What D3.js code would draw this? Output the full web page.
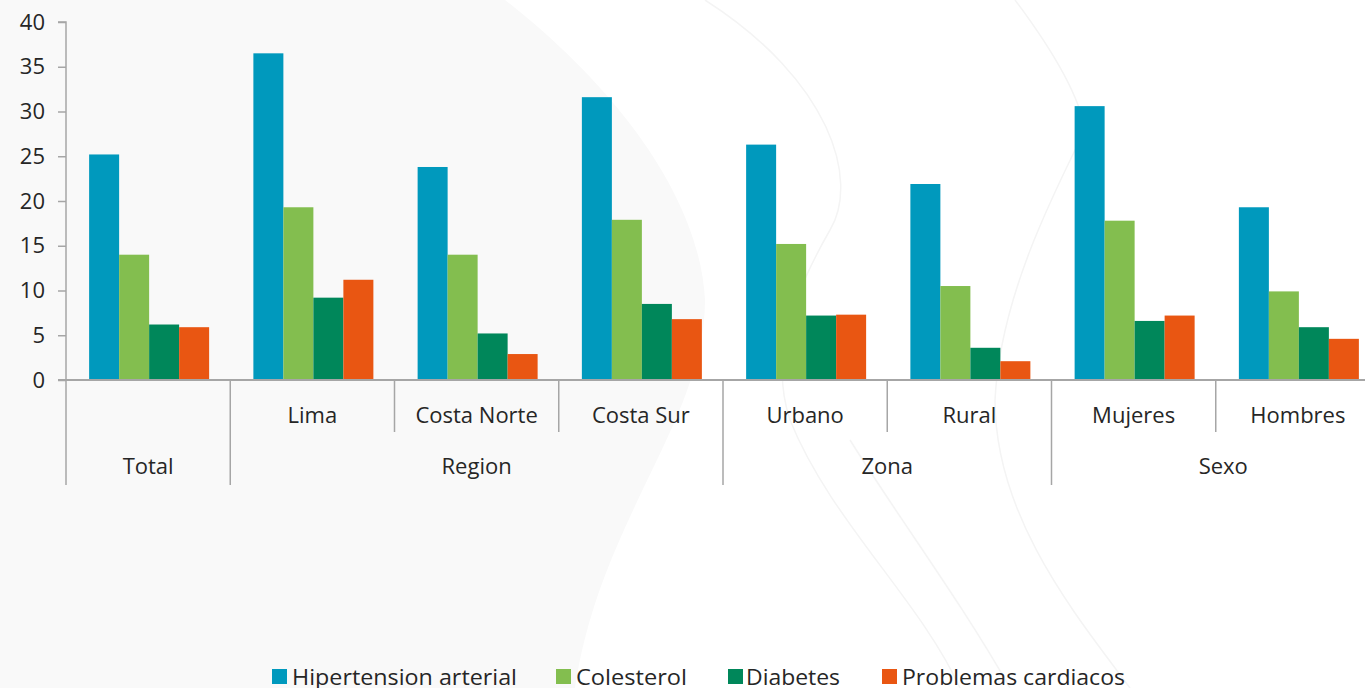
<!DOCTYPE html>
<html>
<head>
<meta charset="utf-8">
<script src="https://cdn.jsdelivr.net/npm/d3@7"></script>
<style>
html,body{margin:0;padding:0;background:#fff;overflow:hidden;}
svg{display:block;}
text{font-family:"Open Sans",sans-serif;fill:#262626;}
</style>
</head>
<body>
<svg id="chart" width="1365" height="688"></svg>
<script>
const categories = ["Total","Lima","Costa Norte","Costa Sur","Urbano","Rural","Mujeres","Hombres"];
const groups = [
  {name:"Total", from:0, to:0},
  {name:"Region", from:1, to:3},
  {name:"Zona", from:4, to:5},
  {name:"Sexo", from:6, to:7}
];
const seriesNames = ["Hipertension arterial","Colesterol","Diabetes","Problemas cardiacos"];
const hipertension = [25.2, 36.5, 23.8, 31.6, 26.3, 21.9, 30.6, 19.3];
const colesterol   = [14.0, 19.3, 14.0, 17.9, 15.2, 10.5, 17.8, 9.9];
const diabetes     = [6.2, 9.2, 5.2, 8.5, 7.2, 3.6, 6.6, 5.9];
const cardiacos    = [5.9, 11.2, 2.9, 6.8, 7.3, 2.1, 7.2, 4.6];
const yTicks = [0,5,10,15,20,25,30,35,40];
const colors = ["#0099BD","#83BE4F","#00875A","#E95612"];

const seriesValues = [hipertension, colesterol, diabetes, cardiacos];

const svg = d3.select("#chart");

// decorative background
const bg = svg.append("g");
bg.append("rect").attr("width",1365).attr("height",688).attr("fill","#ffffff");
bg.append("path")
  .attr("d","M0,0 L505,0 C620,90 700,200 705,300 C705,420 600,520 575,688 L0,688 Z")
  .attr("fill","#f9f9f9");
const deco = [
  "M705,0 C830,80 860,180 830,230 C790,300 770,360 790,420 C830,520 920,600 960,688",
  "M1015,0 C1060,60 1080,100 1085,130 C1050,200 1000,300 995,400 C995,520 1080,620 1130,688",
  "M850,440 C900,520 960,600 1010,688"
];
bg.selectAll("path.deco").data(deco).enter().append("path")
  .attr("class","deco").attr("d",d=>d).attr("fill","none")
  .attr("stroke","#f4f4f4").attr("stroke-width",1.5);

const x0 = 66, xEnd = 1380;
const x = d3.scaleBand().domain(categories).range([x0, xEnd]).padding(0);
const bw = x.bandwidth();
const xs = d3.scaleBand().domain(seriesNames).range([(bw-120)/2, (bw+120)/2]).padding(0);
const y = d3.scaleLinear().domain([0,40]).range([380,22]);

// bars
const g = svg.append("g");
seriesNames.forEach((s, si) => {
  g.selectAll(null).data(seriesValues[si]).enter().append("rect")
    .attr("x",(d,i)=> x(categories[i]) + xs(s) + 1)
    .attr("y",d=>y(d))
    .attr("width", xs.bandwidth())
    .attr("height", d=> y(0)-y(d))
    .attr("fill", colors[si]);
});

// y axis
const yAxis = d3.axisLeft(y).tickValues(yTicks).tickSize(8).tickPadding(13);
const ya = svg.append("g").attr("transform",`translate(${x0},0)`).call(yAxis);
ya.select(".domain").attr("stroke","#a6a6a6").attr("stroke-width",1.5).attr("d",`M-8,22H0V380`);
ya.selectAll(".tick line").attr("stroke","#a6a6a6").attr("stroke-width",1.5);
ya.selectAll(".tick text").style("font-family","'Open Sans',sans-serif").style("font-size","22px").attr("fill","#262626");

// x axis line
svg.append("line").attr("x1",58).attr("x2",1365).attr("y1",y(0)).attr("y2",y(0))
  .attr("stroke","#a6a6a6").attr("stroke-width",2);

// separators
const sepG = svg.append("g");
const groupStarts = new Set(groups.map(gr=>gr.from));
categories.forEach((c,i)=>{
  const isGroup = groupStarts.has(i);
  sepG.append("line").attr("x1",x(c)).attr("x2",x(c))
    .attr("y1",y(0)).attr("y2", isGroup ? 485 : 432)
    .attr("stroke","#a6a6a6").attr("stroke-width",1.5);
});

// category labels (not for groups of single category)
categories.forEach((c,i)=>{
  const gr = groups.find(gg=> i>=gg.from && i<=gg.to);
  if (gr.from === gr.to) return;
  svg.append("text").attr("x", x(c)+bw/2).attr("y", 423)
    .attr("text-anchor","middle").style("font-size","22px").text(c);
});
// group labels
groups.forEach(gr=>{
  const cx = (x(categories[gr.from]) + x(categories[gr.to]) + bw)/2;
  svg.append("text").attr("x", gr.name==="Sexo" ? (x(categories[gr.from]) + 1365)/2 + 15 : cx).attr("y", 474)
    .attr("text-anchor","middle").style("font-size","22px").text(gr.name);
});

// legend
const legendItems = [
  {sx:272, tx:292, tw:225},
  {sx:556, tx:576, tw:111},
  {sx:728, tx:746, tw:94},
  {sx:882, tx:902, tw:223}
];
const lg = svg.append("g");
seriesNames.forEach((s,i)=>{
  const it = legendItems[i];
  lg.append("rect").attr("x",it.sx).attr("y",669).attr("width",15).attr("height",15).attr("fill",colors[i]);
  lg.append("text").attr("x",it.tx).attr("y",685).style("font-size","22px")
    .attr("textLength",it.tw).attr("lengthAdjust","spacingAndGlyphs").text(s);
});
</script>
</body>
</html>
